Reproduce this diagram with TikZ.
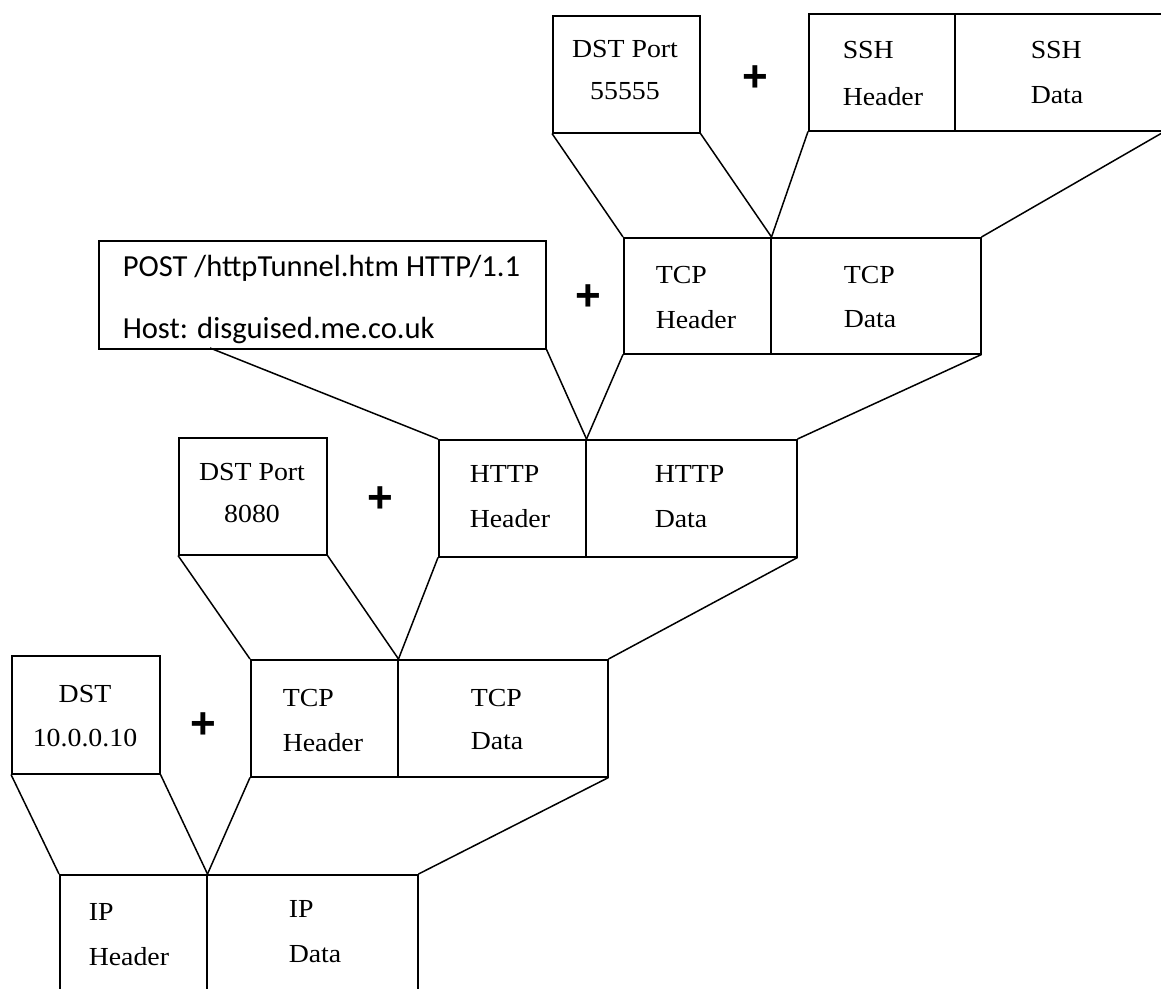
\documentclass[tikz,border=0pt]{standalone}
\usepackage{fontspec}
\setmainfont{Liberation Serif}[FakeStretch=1.07]
\newfontfamily\postfont{Carlito}
\newfontfamily\plusfont{Liberation Sans}
\begin{document}
\begin{tikzpicture}[x=1pt,y=-1pt,line width=1.5pt,
  cell/.style={draw,rectangle,inner sep=0pt,anchor=north west},
  lbl/.style={anchor=base west,inner sep=0pt,font=\fontsize{26}{30}\selectfont},
  clbl/.style={anchor=base,inner sep=0pt,font=\fontsize{26}{30}\selectfont},
  ptxt/.style={anchor=base west,inner sep=0pt,font=\postfont\fontsize{30.6}{36}\selectfont},
  plus/.style={anchor=base,inner sep=0pt,font=\plusfont\bfseries\fontsize{44}{50}\selectfont},
  link/.style={line width=1.5pt}]
\useasboundingbox (0,0) rectangle (1161,988);
\clip (0,0) rectangle (1161,988);

% level 4
\node[cell,minimum width=147pt,minimum height=117pt] (p4) at (552,15) {};
\node[cell,minimum width=146pt,minimum height=117pt] (sshH) at (808,13) {};
\node[cell,minimum width=209pt,minimum height=117pt] (sshD) at (954,13) {};
\node[plus] (pl4) at (755,91) {+};
\node[clbl] (t1) at (625,57) {DST Port};
\node[clbl] (t2) at (625,99) {55555};
\node[lbl] (t3) at (842,58) {SSH};
\node[lbl] (t4) at (842,105) {Header};
\node[lbl] (t5) at (1030,58) {SSH};
\node[lbl] (t6) at (1030,103) {Data};

% level 3
\node[cell,minimum width=147pt,minimum height=116pt] (tcp2H) at (623,237) {};
\node[cell,minimum width=210pt,minimum height=116pt] (tcp2D) at (770,237) {};
\node[cell,minimum width=447pt,minimum height=108pt] (post) at (98,240) {};
\coordinate (postL) at (210,348);
\node[plus] (pl3) at (588,310) {+};
\node[ptxt] (t7) at (122,276) {POST /httpTunnel.htm HTTP/1.1};
\node[ptxt] (t8) at (122,338) {Host: disguised.me.co.uk};
\node[lbl] (t9) at (655,283) {TCP};
\node[lbl] (t10) at (655,328) {Header};
\node[lbl] (t11) at (843,283) {TCP};
\node[lbl] (t12) at (843,327) {Data};

% level 2
\node[cell,minimum width=147pt,minimum height=117pt] (httpH) at (438,439) {};
\node[cell,minimum width=211pt,minimum height=117pt] (httpD) at (585,439) {};
\node[cell,minimum width=148pt,minimum height=117pt] (p8080) at (178,437) {};
\node[plus] (pl2) at (380,512) {+};
\node[clbl] (t13) at (252,480) {DST Port};
\node[clbl] (t14) at (252,522) {8080};
\node[lbl] (t15) at (469,482) {HTTP};
\node[lbl] (t16) at (469,527) {Header};
\node[lbl] (t17) at (654,482) {HTTP};
\node[lbl] (t18) at (654,527) {Data};

% level 1
\node[cell,minimum width=147pt,minimum height=117pt] (tcp1H) at (250,659) {};
\node[cell,minimum width=210pt,minimum height=117pt] (tcp1D) at (397,659) {};
\node[cell,minimum width=148pt,minimum height=118pt] (dst) at (11,655) {};
\node[plus] (pl1) at (203,738) {+};
\node[clbl] (t19) at (85,702) {DST};
\node[clbl] (t20) at (85,746) {10.0.0.10};
\node[lbl] (t21) at (282,706) {TCP};
\node[lbl] (t22) at (282,751) {Header};
\node[lbl] (t23) at (470,706) {TCP};
\node[lbl] (t24) at (470,749) {Data};

% level 0
\node[cell,minimum width=147pt,minimum height=130pt] (ipH) at (59,874) {};
\node[cell,minimum width=211pt,minimum height=130pt] (ipD) at (206,874) {};
\node[lbl] (t25) at (88,920) {IP};
\node[lbl] (t26) at (88,965) {Header};
\node[lbl] (t27) at (288,917) {IP};
\node[lbl] (t28) at (288,962) {Data};

% connectors
\draw[link] (p4.south west) -- (tcp2H.north west);
\draw[link] (p4.south east) -- (tcp2H.north east);
\draw[link] (sshH.south west) -- (tcp2H.north east);
\draw[link] (sshD.south east) -- (tcp2D.north east);

\draw[link] (postL) -- (httpH.north west);
\draw[link] (post.south east) -- (httpH.north east);
\draw[link] (tcp2H.south west) -- (httpH.north east);
\draw[link] (tcp2D.south east) -- (httpD.north east);

\draw[link] (p8080.south west) -- (tcp1H.north west);
\draw[link] (p8080.south east) -- (tcp1H.north east);
\draw[link] (httpH.south west) -- (tcp1H.north east);
\draw[link] (httpD.south east) -- (tcp1D.north east);

\draw[link] (dst.south west) -- (ipH.north west);
\draw[link] (dst.south east) -- (ipH.north east);
\draw[link] (tcp1H.south west) -- (ipH.north east);
\draw[link] (tcp1D.south east) -- (ipD.north east);
\end{tikzpicture}
\end{document}
